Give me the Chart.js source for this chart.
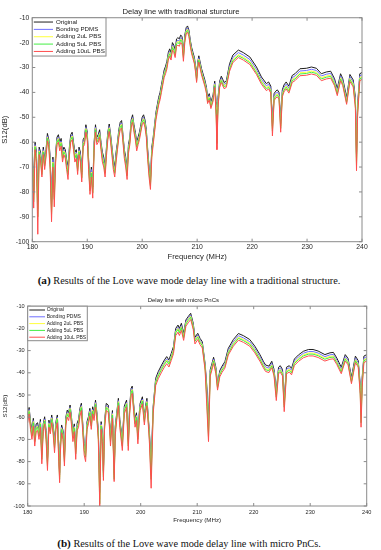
<!DOCTYPE html>
<html>
<head>
<meta charset="utf-8">
<script src="https://cdn.jsdelivr.net/npm/chart.js@4.4.0/dist/chart.umd.min.js"></script>
<style>
  html, body { margin: 0; padding: 0; background: #fff; }
  #page { position: relative; width: 381px; height: 550px; overflow: hidden; }
  canvas { position: absolute; left: 0; }
  #chartA { top: 0; }
  #chartB { top: 290px; }
  .caption {
    position: absolute; left: 0; width: 378px; text-align: center;
    font-family: 'Liberation Serif', 'Times New Roman', serif;
    font-size: 10.3px; line-height: 12px; color: #111; white-space: nowrap;
  }
  .caption b { font-size: 11.2px; }
  #capA { top: 274px; }
  #capB { top: 537px; }
</style>
</head>
<body>
<div id="page">
  <canvas id="chartA" width="381" height="262" style="width:381px;height:262px"></canvas>
  <div class="caption" id="capA"><b>(a)</b> Results of the Love wave mode delay line with a traditional structure.</div>
  <canvas id="chartB" width="381" height="235" style="width:381px;height:235px"></canvas>
  <div class="caption" id="capB"><b>(b)</b> Results of the Love wave mode delay line with micro PnCs.</div>
</div>
<script>
// ==============================
// S12 of Love wave delay lines, 180-240 MHz
// (a) traditional structure, (b) micro PnCs
// values
// ==============================

const seriesLabels = ["Original", "Bonding PDMS", "Adding 2uL PBS", "Adding 5uL PBS", "Adding 10uL PBS"];
const seriesColors = ["#1e1e1e", "#6f6fff", "#ffff3c", "#44ee44", "#ff4d4d"];

// ---------- (a) traditional structure ----------
const freqA = [
  180,180.25,180.5,180.75,181,181.25,181.5,181.75,182,182.25,182.5,182.75,183,183.25,183.5,183.75,184,184.25,184.5,184.75,
  185,185.25,185.5,185.75,186,186.25,186.5,186.75,187,187.25,187.5,187.75,188,188.25,188.5,188.75,189,189.25,189.5,189.75,
  190,190.25,190.5,190.75,191,191.25,191.5,191.75,192,192.25,192.5,192.75,193,193.25,193.5,193.75,194,194.25,194.5,194.75,
  195,195.25,195.5,195.75,196,196.25,196.5,196.75,197,197.25,197.5,197.75,198,198.25,198.5,198.75,199,199.25,199.5,199.75,
  200,200.25,200.5,200.75,201,201.25,201.5,201.75,202,202.25,202.5,202.75,203,203.25,203.5,203.75,204,204.25,204.5,204.75,
  205,205.25,205.5,205.75,206,206.25,206.5,206.75,207,207.25,207.5,207.75,208,208.25,208.5,208.75,209,209.25,209.5,209.75,
  209.9,210.1,210.3,210.8,211.4,211.7,211.9,212.2,212.5,212.9,213.2,213.45,213.6,213.8,214.1,214.4,214.9,215.3,215.9,216.5,
  217.5,218.4,219.6,220.8,221.7,222.6,223,223.4,223.7,224,224.3,224.6,224.9,225.2,225.5,225.8,226.2,226.7,227.3,227.8,
  228.7,229.9,230.8,231.7,232.6,233.5,234.3,235,235.5,236.1,236.5,237.2,237.8,238.4,238.8,239,239.2,239.6,240
];
const originalA = [
  -62,-80,-60,-64,-82,-62,-64,-70,-62,-67,-63,-56.5,-59,-66,-84,-66,-79,-64,-58,-57,
  -60,-58.5,-64,-62,-63,-67,-70,-62,-57,-56,-60,-64,-63,-69,-62,-64,-72,-59,-58,-53,
  -56,-67,-77,-70,-78,-60,-53,-58,-57,-55,-60,-64,-66,-70,-62,-56,-52.7,-57,-62,-67,
  -70,-64,-60,-55,-52,-51.3,-57,-63,-66,-71,-61,-58,-51,-49,-53,-56,-60,-58,-56,-53,
  -50,-49,-51,-55,-63,-70,-75,-62,-58,-53,-48,-45,-42,-40,-37,-34,-31,-29.5,-27.5,-24,
  -22.5,-24,-20,-21,-23,-18.5,-18,-18.5,-17,-17.5,-24,-17,-14,-13.3,-15,-19,-22,-24,-26,-30,
  -33.5,-28,-25.3,-30.5,-35,-38,-42,-40.5,-44,-41,-35.5,-44,-56,-42,-35.5,-33.5,-36,-35.5,-28.5,-25,
  -23,-24,-25.8,-29.8,-33.8,-36.5,-35.8,-37.5,-52,-40.5,-39.5,-39,-40,-51,-39,-37,-35.8,-37.5,-33.2,-32.5,
  -30.5,-30.3,-29.8,-30.3,-32.5,-31.8,-31.5,-34.5,-38.5,-32.5,-34.5,-42,-32.8,-35,-42,-65,-45,-32.5,-32
];
const pdmsA = [
  -63,-81,-61,-65,-84,-63,-65,-71,-63,-68,-64,-57.5,-60,-67,-86,-67,-80,-65,-59,-58,
  -61,-59.5,-65,-63,-64,-68,-71,-63,-58,-57,-61,-65,-64,-70,-63,-65,-73,-60,-59,-54,
  -57,-68,-78,-71,-79,-61,-54,-59,-58,-56,-61,-65,-67,-71,-63,-57,-53.7,-58,-63,-68,
  -71,-65,-61,-56,-53,-52.3,-58,-64,-67,-72,-62,-59,-52,-50,-54,-57,-61,-59,-57,-54,
  -51,-50,-52,-56,-64,-71,-76,-63,-59,-54,-49,-46,-43,-41,-38,-35,-32,-30.5,-28.5,-25,
  -23.5,-25,-21,-22,-24,-19.5,-19,-19.5,-18,-18.5,-25,-18,-14.8,-14.1,-15.8,-19.8,-22.8,-24.8,-26.8,-30.8,
  -34.2,-28.8,-26.1,-31.3,-35.8,-38.8,-42.8,-41.3,-44.8,-41.8,-36.3,-45,-57.5,-43,-36.3,-34.3,-36.8,-36.3,-29.5,-26,
  -24,-25,-26.8,-30.8,-34.8,-37.4,-36.7,-38.4,-53.5,-41.4,-40.4,-39.9,-40.9,-52.5,-39.9,-37.9,-36.7,-38.4,-34.1,-33.4,
  -31.4,-31.2,-30.7,-31.2,-33.4,-32.7,-32.4,-35.4,-39.4,-33.4,-35.4,-42.9,-33.7,-35.9,-43,-66.5,-46,-33.4,-32.9
];
const pbs2A = [
  -64,-83,-61.5,-66,-87,-63.5,-66,-72,-63.5,-69,-64.5,-58,-60.5,-68,-88,-68,-82,-66,-59.5,-58.5,
  -61.5,-60,-66,-63.5,-64.5,-69,-72,-63.5,-58.5,-57.5,-61.5,-66,-64.5,-71,-63.5,-66,-74,-60.5,-59.5,-54.5,
  -57.5,-69,-79,-72,-80,-61.5,-54.5,-59.5,-58.5,-56.5,-61.5,-66,-68,-72,-63.5,-57.5,-54.2,-58.5,-63.5,-69,
  -72,-66,-61.5,-56.5,-53.5,-52.8,-58.5,-64.5,-68,-73,-62.5,-59.5,-52.5,-50.5,-54.5,-57.5,-61.5,-59.5,-57.5,-54.5,
  -51.5,-50.5,-52.5,-56.5,-65,-72,-77,-64,-59.5,-54.5,-49.5,-46.5,-43.5,-41.5,-38.5,-35.5,-32.5,-31,-29,-25.5,
  -24,-25.5,-21.5,-22.5,-24.5,-20,-19.5,-20,-18.5,-19,-25.5,-18.5,-15.3,-14.6,-16.3,-20.3,-23.3,-25.3,-27.3,-31.3,
  -34.8,-29.3,-26.6,-31.8,-36.3,-39.3,-43.3,-41.8,-45.3,-42.3,-36.8,-46,-59,-44,-36.8,-34.8,-37.3,-36.8,-30.2,-26.8,
  -24.8,-25.8,-27.6,-31.6,-35.5,-38.1,-37.4,-39.1,-54.5,-42.1,-41.1,-40.6,-41.6,-53.5,-40.6,-38.6,-37.4,-39.1,-34.8,-34.1,
  -32.1,-31.9,-31.4,-31.9,-34.1,-33.4,-33.1,-36.1,-40.1,-34.1,-36.1,-43.6,-34.4,-36.6,-44,-68,-47,-34.1,-33.6
];
const pbs5A = [
  -64.5,-84,-62,-66.5,-90,-64,-66.5,-73,-64,-69.5,-65,-58.5,-61,-69,-89,-68.5,-83,-66.5,-60,-59,
  -62,-60.5,-66.5,-64,-65,-69.5,-73,-64,-59,-58,-62,-66.5,-65,-71.5,-64,-66.5,-74.5,-61,-60,-55,
  -58,-69.5,-79.5,-72.5,-80.5,-62,-55,-60,-59,-57,-62,-66.5,-68.5,-72.5,-64,-58,-54.7,-59,-64,-69.5,
  -72.5,-66.5,-62,-57,-54,-53.3,-59,-65,-68.5,-73.5,-63,-60,-53,-51,-55,-58,-62,-60,-58,-55,
  -52,-51,-53,-57,-65.5,-72.5,-77.5,-64.5,-60,-55,-50,-47,-44,-42,-39,-36,-33,-31.5,-29.5,-26,
  -24.5,-26,-22,-23,-25,-20.5,-20,-20.5,-19,-19.5,-26,-19,-15.8,-15.1,-16.8,-20.8,-23.8,-25.8,-27.8,-31.8,
  -35.3,-29.8,-27.1,-32.3,-36.8,-39.8,-43.8,-42.3,-45.8,-42.8,-37.3,-47,-60.5,-45,-37.3,-35.3,-37.8,-37.3,-30.7,-27.3,
  -25.3,-26.3,-28.1,-32.1,-36,-38.6,-37.9,-39.6,-55.5,-42.6,-41.6,-41.1,-42.1,-54.5,-41.1,-39.1,-37.9,-39.6,-35.3,-34.6,
  -32.6,-32.4,-31.9,-32.4,-34.6,-33.9,-33.6,-36.6,-40.6,-34.6,-36.6,-44.1,-34.9,-37.1,-45,-69.5,-48,-34.6,-34.1
];
const pbs10A = [
  -66,-86.5,-63,-68,-97,-65,-67.5,-74,-65,-71,-66,-59.5,-62,-71,-92,-70,-86,-68,-61,-60,
  -63.5,-61.5,-68,-65,-66.5,-71,-75,-65.5,-60,-59,-63,-68,-66.5,-73,-65,-68,-76,-62,-61,-56,
  -59,-71,-81,-74,-82.5,-63.5,-56,-61,-60,-58,-63,-68,-70,-74,-65.5,-59,-55.7,-60,-65.5,-71,
  -74,-68,-63,-58,-55,-54.3,-60,-66.5,-70,-75,-64.5,-61,-54,-52,-56,-59,-63.5,-61,-59,-56,
  -53,-52,-54,-58,-67,-74,-79,-66,-61,-56,-51,-48,-45,-43,-40,-37,-34,-32.5,-30.5,-27,
  -25.5,-27,-23,-24,-26,-21.5,-21,-21.5,-20,-20.5,-27.5,-20,-16.5,-15.8,-17.5,-21.5,-24.5,-26.5,-28.5,-32.5,
  -36,-30.5,-27.8,-33,-37.5,-40.5,-44.5,-43,-46.5,-43.5,-38,-49,-63,-46,-38,-36,-38.5,-38,-31.5,-28,
  -26,-27,-28.8,-32.8,-36.7,-39.3,-38.6,-40.3,-57.5,-43.3,-42.3,-41.8,-42.8,-56,-41.8,-39.8,-38.6,-40.3,-36,-35.3,
  -33.3,-33.1,-32.6,-33.1,-35.3,-34.6,-34.3,-37.3,-41.3,-35.3,-37.3,-44.8,-35.6,-37.8,-46.5,-71.5,-49.5,-35.3,-34.8
];

// ---------- (b) micro PnCs ----------
const freqB = [
  180,180.25,180.5,180.75,181,181.25,181.5,181.75,182,182.25,182.5,182.75,183,183.25,183.5,183.75,184,184.25,184.5,184.75,
  185,185.25,185.5,185.65,185.75,186,186.25,186.5,186.75,187,187.25,187.5,187.75,188,188.25,188.5,188.75,189,189.25,189.5,189.75,
  190,190.25,190.5,190.75,191,191.25,191.5,191.75,192,192.25,192.5,192.75,193,193.25,193.4,193.6,193.9,194.25,194.5,194.65,
  195,195.3,195.5,195.75,196.05,196.3,196.75,197.1,197.5,197.8,198.05,198.3,198.5,198.75,199,199.25,199.5,199.75,199.9,
  200.3,200.65,200.85,201.1,201.4,201.55,201.85,202.2,202.65,203.1,203.7,204.2,204.6,
  205,205.4,205.8,206.2,206.6,206.85,207.2,207.6,208,208.4,208.85,209.3,209.6,
  210.1,210.5,210.9,211.4,211.7,212,212.3,212.6,212.9,213.3,213.6,214,214.4,214.9,215.5,216.4,217.3,218.2,219.3,
  220.2,221.1,221.7,222.1,222.7,223.2,223.6,224,224.4,224.7,225.1,225.4,225.8,226.3,226.7,227.2,227.9,228.8,229.7,
  230.5,231.4,232.6,233.5,234.1,234.7,235.5,236.2,236.7,237.3,238,238.5,238.85,239,239.2,239.5,240
];
const originalB = [
  -59,-55.6,-62,-66,-60.5,-68.5,-63,-62.5,-66,-61,-76,-63,-59.8,-66,-79,-61.3,-64,-59,-64,-71,
  -62,-59,-75,-85,-72,-63.5,-66,-77,-60,-56.8,-58,-54.5,-60,-66.5,-63,-73.5,-62.7,-61,-56,-53.7,-63,
  -72,-75,-62,-59.8,-56,-62,-55.3,-58,-52.3,-58,-66,-90,-62,-68,-84,-62,-53.8,-54.5,-62,-68.5,
  -57,-85,-64,-58.3,-51.5,-61,-70,-55,-52.3,-70,-55,-47,-46,-54,-61,-58,-67,-58,-53.8,
  -50.8,-60,-55,-51.5,-62,-67,-81,-55.3,-42.5,-39.5,-36.5,-34.2,-32.7,
  -34.2,-31.3,-28.2,-20,-18.5,-20,-17.7,-22.2,-16.2,-14.7,-13.2,-17.7,-24,
  -22.2,-24.5,-26,-36,-46,-62,-38.7,-36,-33,-37.5,-45,-39,-37,-35,-29,-25,-22.3,-23.3,-25,
  -28,-31.8,-34.8,-36.5,-37,-34.8,-38.5,-48,-37.5,-36.8,-38.5,-52,-37.5,-36.8,-38,-33.8,-32,-30.3,-29.5,
  -29.5,-30.2,-31.8,-31,-30.8,-33.3,-37.5,-31.8,-33.5,-42,-32.5,-34.5,-45,-58,-42,-32.5,-31.8
];
const pdmsB = [
  -60,-56.5,-63,-67,-61.5,-69.5,-64,-63.5,-67,-62,-77,-64,-60.8,-67,-80,-62.3,-65,-60,-65,-72,
  -63,-60,-76,-86,-73,-64.5,-67,-78,-61,-57.8,-59,-55.5,-61,-67.5,-64,-74.5,-63.7,-62,-57,-54.7,-64,
  -73,-76,-63,-60.8,-57,-63,-56.3,-59,-53.3,-59,-67,-94,-63,-69,-85,-63,-54.8,-55.5,-63,-69.5,
  -58,-86,-65,-59.3,-52.5,-62,-71,-56,-53.3,-71,-56,-48,-47,-55,-62,-59,-68,-59,-54.8,
  -51.8,-61,-56,-52.5,-63,-68,-84,-56.3,-43.5,-40.5,-37.5,-35.2,-33.7,
  -35.2,-32.3,-29.2,-21,-19.5,-21,-18.7,-23.2,-17,-15.5,-14,-18.5,-24.8,
  -23,-25.3,-26.8,-36.8,-48,-65,-39.5,-36.8,-33.8,-38.3,-45.8,-39.8,-37.8,-35.9,-30,-26,-23.3,-24.3,-26,
  -29,-32.8,-35.7,-37.4,-37.9,-35.7,-39.4,-49,-38.4,-37.7,-39.4,-53.5,-38.4,-37.7,-38.9,-34.7,-32.9,-31.2,-30.4,
  -30.4,-31.1,-32.7,-31.9,-31.7,-34.2,-38.4,-32.7,-34.4,-42.9,-33.4,-35.4,-46,-59.5,-43,-33.4,-32.7
];
const pbs2B = [
  -60.5,-57,-63.5,-68,-62,-70.5,-64.5,-64,-68,-62.5,-78,-64.5,-61.3,-68,-81,-62.8,-65.5,-60.5,-65.5,-73,
  -63.5,-60.5,-77,-87,-74,-65,-68,-79,-61.5,-58.3,-59.5,-56,-61.5,-68.5,-64.5,-75.5,-64.2,-62.5,-57.5,-55.2,-65,
  -74,-77,-63.5,-61.3,-57.5,-63.5,-56.8,-59.5,-53.8,-59.5,-68,-97,-63.5,-70,-86,-63.5,-55.3,-56,-63.5,-70.5,
  -58.5,-87,-66,-59.8,-53,-62.5,-72,-56.5,-53.8,-72,-56.5,-48.5,-47.5,-55.5,-62.5,-59.5,-69,-59.5,-55.3,
  -52.3,-61.5,-56.5,-53,-63.5,-69,-86,-56.8,-44,-41,-38,-35.7,-34.2,
  -35.7,-32.8,-29.7,-21.5,-20,-21.5,-19.2,-23.7,-17.5,-16,-14.5,-19,-25.3,
  -23.5,-25.8,-27.3,-37.3,-50,-67,-40,-37.3,-34.3,-38.8,-46.3,-40.3,-38.3,-36.6,-30.7,-26.7,-24,-25,-26.7,
  -29.7,-33.5,-36.4,-38.1,-38.6,-36.4,-40.1,-50,-39.1,-38.4,-40.1,-54.5,-39.1,-38.4,-39.6,-35.4,-33.6,-31.9,-31.1,
  -31.1,-31.8,-33.4,-32.6,-32.4,-34.9,-39.1,-33.4,-35.1,-43.6,-34.1,-36.1,-47,-61,-44,-34.1,-33.4
];
const pbs5B = [
  -61,-57.5,-64,-68.5,-62.5,-71,-65,-64.5,-68.5,-63,-79,-65,-61.8,-68.5,-82,-63.3,-66,-61,-66,-74,
  -64,-61,-78,-88,-75,-65.5,-68.5,-80,-62,-58.8,-60,-56.5,-62,-69,-65,-76.5,-64.7,-63,-58,-55.7,-65.5,
  -75,-78,-64,-61.8,-58,-64,-57.3,-60,-54.3,-60,-68.5,-99,-64,-71,-87,-64,-55.8,-56.5,-64,-71,
  -59,-88,-66.5,-60.3,-53.5,-63,-73,-57,-54.3,-73,-57,-49,-48,-56,-63,-60,-70,-60,-55.8,
  -52.8,-62,-57,-53.5,-64,-70,-88,-57.3,-44.5,-41.5,-38.5,-36.2,-34.7,
  -36.2,-33.3,-30.2,-22,-20.5,-22,-19.7,-24.2,-18,-16.5,-15,-19.5,-25.8,
  -24,-26.3,-27.8,-37.8,-52,-69,-40.5,-37.8,-34.8,-39.3,-46.8,-40.8,-38.8,-37.1,-31.2,-27.2,-24.5,-25.5,-27.2,
  -30.2,-34,-36.9,-38.6,-39.1,-36.9,-40.6,-51,-39.6,-38.9,-40.6,-55.5,-39.6,-38.9,-40.1,-35.9,-34.1,-32.4,-31.6,
  -31.6,-32.3,-33.9,-33.1,-32.9,-35.4,-39.6,-33.9,-35.6,-44.1,-34.6,-36.6,-48,-62.5,-45,-34.6,-33.9
];
const pbs10B = [
  -62.5,-58.5,-65.5,-70,-64,-73,-66.5,-66,-70,-64.5,-81,-66.5,-63,-70,-84,-64.5,-67.5,-62.5,-67.5,-76,
  -65.5,-62.5,-80,-89.5,-77,-67,-70,-82,-63.5,-60,-61.5,-57.8,-63.5,-71,-66.5,-79,-66,-64.5,-59.5,-57,-67,
  -77,-80,-65.5,-63,-59.5,-65.5,-58.5,-61.5,-55.5,-61.5,-70,-100,-65.5,-73,-88.5,-65.5,-57,-57.8,-65.5,-73,
  -60.5,-89,-68,-61.5,-54.8,-64.5,-75,-58.5,-55.5,-75,-58.5,-50.3,-49.3,-57.5,-64.5,-61.5,-72,-61.5,-57,
  -54,-63.5,-58.5,-54.8,-65.5,-72,-92,-58.5,-45.7,-42.7,-39.7,-37.4,-35.9,
  -37.4,-34.5,-31.4,-23.2,-21.7,-23.2,-20.9,-25.4,-19,-17.5,-16,-20.5,-27,
  -25,-27.3,-28.8,-38.8,-55,-71,-41.5,-38.8,-35.8,-40.3,-47.8,-41.8,-39.8,-37.9,-32,-28,-25.3,-26.3,-28,
  -31,-34.8,-37.7,-39.4,-39.9,-37.7,-41.4,-52.5,-40.4,-39.7,-41.4,-57.5,-40.4,-39.7,-40.9,-36.7,-34.9,-33.2,-32.4,
  -32.4,-33.1,-34.7,-33.9,-33.7,-36.2,-40.4,-34.7,-36.4,-44.9,-35.4,-37.4,-49.5,-64.5,-46.5,-35.4,-34.7
];

Chart.defaults.font.family = "'Liberation Sans', Arial, sans-serif";
Chart.defaults.color = "#262626";

// ---------- matlab-ish box: frame, inward ticks, legend top-left ----------
const axesBox = {
  id: "axesBox",
  afterDatasetsDraw(chart, args, o) {
    const { ctx, chartArea: a, scales: { x, y } } = chart;
    const L = a.left, R = a.right, T = a.top, B = a.bottom;
    ctx.save();
    ctx.strokeStyle = "#8a8a8a";
    ctx.lineWidth = 1;
    ctx.strokeRect(L, T, R - L, B - T);
    ctx.beginPath();
    x.ticks.forEach(t => {
      const px = x.getPixelForValue(t.value);
      ctx.moveTo(px, B); ctx.lineTo(px, B - o.tick);
      ctx.moveTo(px, T); ctx.lineTo(px, T + o.tick);
    });
    y.ticks.forEach(t => {
      const py = y.getPixelForValue(t.value);
      ctx.moveTo(L, py); ctx.lineTo(L + o.tick, py);
      ctx.moveTo(R, py); ctx.lineTo(R - o.tick, py);
    });
    ctx.stroke();

    const lg = o.legend;
    ctx.fillStyle = "#fff";
    ctx.fillRect(L, T, lg.w, lg.h);
    ctx.strokeRect(L, T, lg.w, lg.h);
    ctx.font = `${lg.size}px 'Liberation Sans', Arial, sans-serif`;
    ctx.textBaseline = "middle";
    chart.data.datasets.forEach((ds, i) => {
      const cy = T + lg.first + i * lg.row;
      ctx.strokeStyle = ds.borderColor;
      ctx.beginPath(); ctx.moveTo(L + lg.x0, cy); ctx.lineTo(L + lg.x1, cy); ctx.stroke();
      ctx.fillStyle = "#222";
      ctx.fillText(ds.label, L + lg.tx, cy);
    });
    ctx.restore();
  }
};

function buildChart(id, freqs, series, look) {
  series.forEach((s, i) => {
    if (s.length !== freqs.length) console.error(id, seriesLabels[i], s.length, freqs.length);
  });
  const datasets = series.map((vals, i) => ({
    label: seriesLabels[i],
    data: freqs.map((f, k) => ({ x: f, y: vals[k] })),
    parsing: false,
    borderColor: seriesColors[i],
    borderWidth: 1,
    pointRadius: 0,
    tension: 0,
    fill: false,
    order: series.length - 1 - i,   // last series drawn on top, like matlab
  }));
  return new Chart(document.getElementById(id), {
    type: "line",
    data: { datasets },
    plugins: [axesBox],
    options: {
      responsive: false,
      animation: false,
      devicePixelRatio: 1,
      events: [],
      layout: { padding: { left: 0, right: look.padRight, top: 0, bottom: 0 } },
      plugins: {
        legend: { display: false },
        tooltip: { enabled: false },
        title: {
          display: true, text: look.title, color: "#1a1a1a",
          font: { size: look.titleSize, weight: "normal" },
          padding: { top: look.titleTop, bottom: look.titleBottom }
        },
        axesBox: { tick: 3, legend: look.legend }
      },
      scales: {
        x: {
          type: "linear", min: 180, max: 240,
          afterFit: s => { s.height = look.xHeight; },
          grid: { display: false, drawTicks: false }, border: { display: false },
          ticks: { stepSize: 10, font: { size: look.tickSize }, padding: look.xTickPad, maxRotation: 0, autoSkip: false },
          title: { display: true, text: "Frequency (MHz)", font: { size: look.labelSize }, padding: { top: 0, bottom: look.xTitlePad } }
        },
        y: {
          min: -100, max: -10,
          afterFit: s => { s.width = look.yWidth; },
          grid: { display: false, drawTicks: false }, border: { display: false },
          ticks: { stepSize: 10, font: { size: look.tickSize }, padding: 3 },
          title: { display: true, text: "S12(dB)", font: { size: look.labelSize }, padding: { top: look.yTitlePad, bottom: 0 } }
        }
      }
    }
  });
}

buildChart("chartA", freqA, [originalA, pdmsA, pbs2A, pbs5A, pbs10A], {
  title: "Delay line with traditional sturcture",
  titleSize: 7.7, titleTop: 7.7, titleBottom: 0.8,
  tickSize: 6.8, labelSize: 7.7,
  padRight: 19, yWidth: 32.3, xHeight: 20.3,
  xTickPad: 1.2, xTitlePad: 0, yTitlePad: 0.4,
  legend: { w: 73.7, h: 38.3, first: 4.3, row: 7.35, x0: 1.5, x1: 20.7, tx: 23.7, size: 6.2 }
});

buildChart("chartB", freqB, [originalB, pdmsB, pbs2B, pbs5B, pbs10B], {
  title: "Delay line with micro PnCs",
  titleSize: 6, titleTop: 7.1, titleBottom: 1.9,
  tickSize: 5.6, labelSize: 6.2,
  padRight: 14.3, yWidth: 27.7, xHeight: 19,
  xTickPad: 3, xTitlePad: 0.6, yTitlePad: 1.3,
  legend: { w: 59.6, h: 34.5, first: 3.8, row: 6.8, x0: 1.6, x1: 17.3, tx: 19, size: 5 }
});
</script>
</body>
</html>
